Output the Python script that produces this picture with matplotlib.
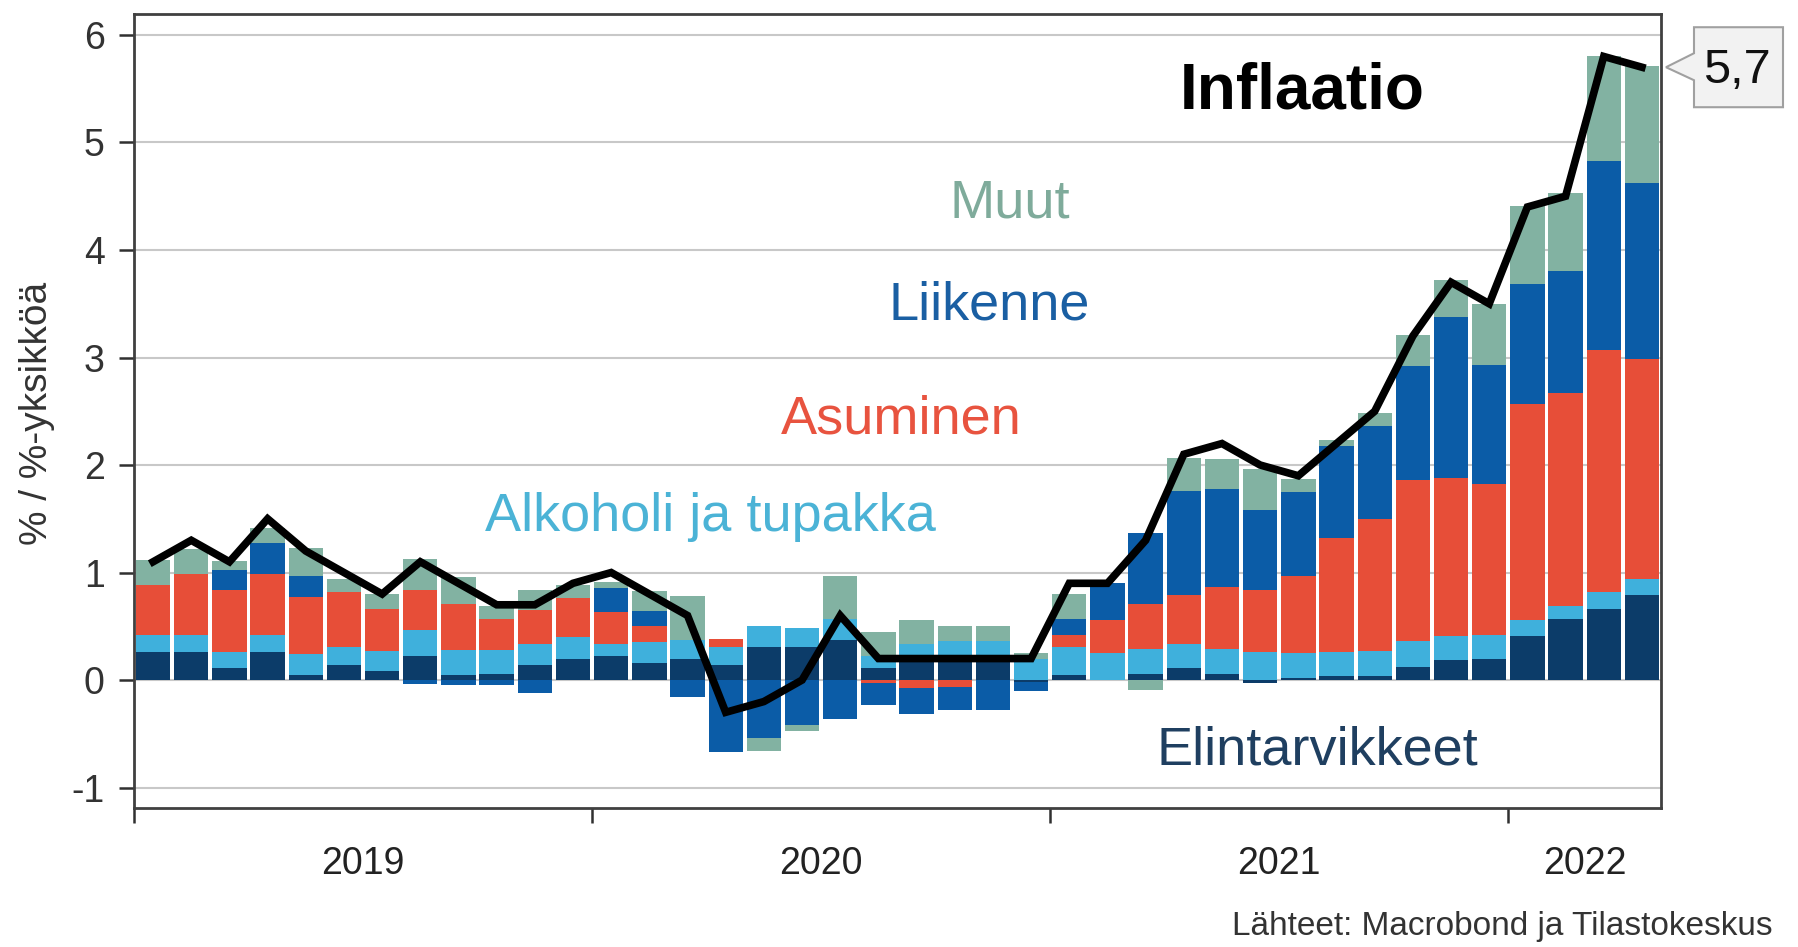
import matplotlib
matplotlib.use("Agg")
import matplotlib.pyplot as plt
import numpy as np
from matplotlib.patches import Polygon
from matplotlib.transforms import IdentityTransform

plt.rcParams['font.family'] = ['Liberation Sans', 'DejaVu Sans']

# ---------------- data ----------------
months = ["2019-01", "2019-02", "2019-03", "2019-04", "2019-05", "2019-06", "2019-07", "2019-08",
          "2019-09", "2019-10", "2019-11", "2019-12", "2020-01", "2020-02", "2020-03", "2020-04",
          "2020-05", "2020-06", "2020-07", "2020-08", "2020-09", "2020-10", "2020-11", "2020-12",
          "2021-01", "2021-02", "2021-03", "2021-04", "2021-05", "2021-06", "2021-07", "2021-08",
          "2021-09", "2021-10", "2021-11", "2021-12", "2022-01", "2022-02", "2022-03", "2022-04"]

elintarvikkeet = [0.26, 0.26, 0.11, 0.26, 0.05, 0.14, 0.08, 0.22, 0.05, 0.06, 0.14, 0.20,
                  0.22, 0.16, 0.20, 0.14, 0.31, 0.31, 0.37, 0.11, 0.17, 0.17, 0.17, -0.02,
                  0.05, 0.00, 0.06, 0.11, 0.06, -0.03, 0.02, 0.04, 0.04, 0.12, 0.19, 0.20,
                  0.41, 0.57, 0.66, 0.79]
alkoholi = [0.155, 0.155, 0.155, 0.155, 0.19, 0.17, 0.19, 0.25, 0.23, 0.22, 0.20, 0.20,
            0.12, 0.19, 0.17, 0.17, 0.19, 0.17, 0.20, 0.11, 0.17, 0.19, 0.19, 0.20,
            0.26, 0.25, 0.23, 0.23, 0.23, 0.26, 0.23, 0.22, 0.23, 0.24, 0.22, 0.22,
            0.15, 0.12, 0.16, 0.15]
asuminen = [0.47, 0.57, 0.57, 0.57, 0.53, 0.51, 0.39, 0.37, 0.43, 0.29, 0.31, 0.36,
            0.29, 0.15, 0.00, 0.07, 0.00, 0.00, 0.00, -0.03, -0.07, -0.06, 0.00, 0.00,
            0.11, 0.31, 0.42, 0.45, 0.58, 0.58, 0.72, 1.06, 1.23, 1.50, 1.47, 1.40,
            2.01, 1.98, 2.25, 2.05]
liikenne = [0.00, 0.00, 0.19, 0.29, 0.20, 0.00, 0.00, -0.04, -0.05, -0.05, -0.12, 0.00,
            0.23, 0.14, -0.16, -0.67, -0.54, -0.42, -0.36, -0.20, -0.25, -0.22, -0.28, -0.08,
            0.15, 0.34, 0.66, 0.97, 0.91, 0.74, 0.78, 0.86, 0.86, 1.06, 1.50, 1.11,
            1.11, 1.13, 1.76, 1.63]
muut = [0.23, 0.23, 0.08, 0.14, 0.26, 0.12, 0.14, 0.29, 0.25, 0.12, 0.19, 0.12,
        0.05, 0.19, 0.41, 0.00, -0.12, -0.05, 0.40, 0.23, 0.22, 0.14, 0.14, 0.05,
        0.23, 0.00, -0.09, 0.31, 0.28, 0.38, 0.12, 0.05, 0.12, 0.29, 0.34, 0.57,
        0.73, 0.73, 0.97, 1.09]
inflaatio = [1.1, 1.3, 1.1, 1.5, 1.2, 1.0, 0.8, 1.1, 0.9, 0.7, 0.7, 0.9,
             1.0, 0.8, 0.6, -0.3, -0.2, 0.0, 0.6, 0.2, 0.2, 0.2, 0.2, 0.2,
             0.9, 0.9, 1.3, 2.1, 2.2, 2.0, 1.9, 2.2, 2.5, 3.2, 3.7, 3.5,
             4.4, 4.5, 5.8, 5.7]

series_names = ["Elintarvikkeet", "Alkoholi ja tupakka", "Asuminen", "Liikenne", "Muut"]
series_values = [elintarvikkeet, alkoholi, asuminen, liikenne, muut]
series_colors = ["#0c3c69", "#3fb0dc", "#e74e38", "#0b5ca7", "#82b2a2"]
label_colors = ["#1f3f60", "#4bb3d6", "#e8533f", "#1a5fa3", "#7fab9b"]

year_labels = ["2019", "2020", "2021", "2022"]
ytick_vals = [-1, 0, 1, 2, 3, 4, 5, 6]
ytick_labels = ["-1", "0", "1", "2", "3", "4", "5", "6"]

# ---------------- figure ----------------
W, H = 1799, 947
fig = plt.figure(figsize=(W / 100, H / 100), dpi=100)
ax = fig.add_axes([134 / W, 1 - 808 / H, (1661 - 134) / W, (808 - 14) / H])

x = np.arange(len(months))
pos_base = np.zeros(len(months))
neg_base = np.zeros(len(months))
for vals, col in zip(series_values, series_colors):
    v = np.array(vals)
    bottom = np.where(v >= 0, pos_base, neg_base)
    ax.bar(x, v, bottom=bottom, width=0.9, color=col, linewidth=0, zorder=2)
    pos_base = pos_base + np.where(v >= 0, v, 0)
    neg_base = neg_base + np.where(v < 0, v, 0)

ax.plot(x, inflaatio, color="black", lw=5.5, solid_joinstyle="miter", zorder=4)

ax.set_xlim(-0.5, len(months) - 0.5)
ax.set_ylim(-1.19, 6.195)

# grid
ax.set_yticks(ytick_vals)
ax.set_yticklabels(ytick_labels)
ax.yaxis.grid(True, color="#c8c8c8", lw=1.5, zorder=0)
ax.set_axisbelow(True)

# year ticks
years = [m[:4] for m in months]
bounds = [i - 0.5 for i in range(len(months)) if i == 0 or years[i] != years[i - 1]]
centers = []
for k, b in enumerate(bounds):
    end = bounds[k + 1] if k + 1 < len(bounds) else len(months) - 0.5
    centers.append((b + end) / 2)
ax.set_xticks(bounds)
ax.set_xticklabels([])
ax.set_xticks(centers, minor=True)
ax.set_xticklabels(year_labels, minor=True)
ax.tick_params(axis="x", which="major", length=11, width=1.8, color="#303030", direction="out")
ax.tick_params(axis="x", which="minor", length=0, pad=27, labelsize=27, labelcolor="#222222")
ax.tick_params(axis="y", length=11, width=1.8, color="#303030", pad=10, labelsize=27,
               labelcolor="#333333")

for s in ax.spines.values():
    s.set_color("#404040")
    s.set_linewidth(2.0)

# series labels
ax.text(30.1, 5.32, "Inflaatio", fontsize=46, fontweight="bold", color="black",
        ha="center", va="baseline", zorder=5)
ax.text(22.43, 4.30, series_names[4], fontsize=39, color=label_colors[4], ha="center", va="baseline")
ax.text(21.9, 3.35, series_names[3], fontsize=39, color=label_colors[3], ha="center", va="baseline")
ax.text(19.6, 2.29, series_names[2], fontsize=39, color=label_colors[2], ha="center", va="baseline")
ax.text(14.6, 1.39, series_names[1], fontsize=39, color=label_colors[1], ha="center", va="baseline")
ax.text(30.5, -0.79, series_names[0], fontsize=39, color=label_colors[0], ha="center", va="baseline")

fig.text(36.7 / W, 1 - 413 / H, "% / %-yksikköä", rotation=90, fontsize=28,
         color="#333333", ha="center", va="center")
fig.text(1773 / W, 1 - 935 / H, "Lähteet: Macrobond ja Tilastokeskus", fontsize=24,
         color="#333333", ha="right", va="baseline")

# callout for last value
fig.canvas.draw()
last_val = inflaatio[-1]
tip_x = ax.transAxes.transform((1.0, 0))[0] + 5
tip_y = ax.transData.transform((0, last_val))[1]
offs = np.array([(0, 0), (28, 14), (28, 40), (117, 40), (117, -40), (28, -40), (28, -13)])
poly = Polygon(offs + np.array([tip_x, tip_y]), closed=True, transform=IdentityTransform(),
               facecolor="#f2f2f2", edgecolor="#a0a0a0", lw=1.5, clip_on=False, zorder=6)
fig.patches.append(poly)
fig.text((tip_x + 71) / W, (tip_y - 3) / H, f"{last_val:.1f}".replace(".", ","),
         fontsize=35, color="#111111", ha="center", va="center", zorder=7)

fig.savefig("out.png", dpi=100)
